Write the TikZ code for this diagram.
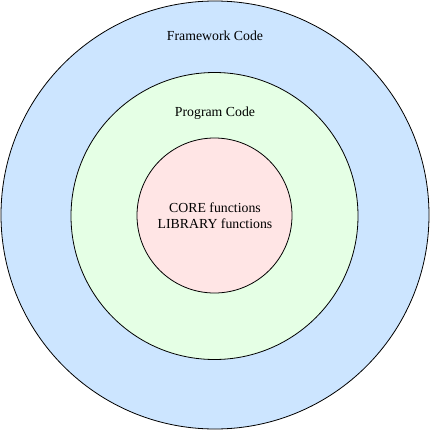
\documentclass[tikz,border=0pt]{standalone}
\usepackage{fontspec}
\setmainfont{Liberation Serif}
\definecolor{outerblue}{RGB}{204,229,255}
\definecolor{midgreen}{RGB}{229,255,229}
\definecolor{innerpink}{RGB}{255,229,229}
\begin{document}
\begin{tikzpicture}[x=1pt,y=-1pt,
  ring/.style={circle,draw=black,line width=0.8pt,inner sep=0pt},
  lbl/.style={font=\fontsize{13.8}{16}\selectfont,align=center,inner sep=0pt}]
\useasboundingbox (0,0) rectangle (431,431);
\node[ring,fill=outerblue,minimum size=428pt] (outer) at (215,215) {};
\node[ring,fill=midgreen,minimum size=287pt] (mid) at (214.5,216) {};
\node[ring,fill=innerpink,minimum size=155pt] (inner) at (214.5,215.5) {};
\node[lbl] (fw) at (215,36) {Framework Code};
\node[lbl] (pc) at (215,113) {Program Code};
\node[lbl] (core) at (215,216) {CORE functions\\LIBRARY functions};
\end{tikzpicture}
\end{document}
